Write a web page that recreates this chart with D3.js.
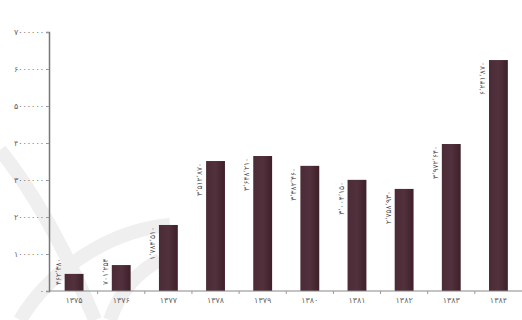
<!DOCTYPE html>
<html><head><meta charset="utf-8">
<script src="https://cdn.jsdelivr.net/npm/d3@7"></script>
<style>html,body{margin:0;padding:0;background:#fff;}svg{display:block;}</style>
</head><body>
<svg id="c" width="522" height="320"></svg>
<script>
const years = ["۱۳۷۵","۱۳۷۶","۱۳۷۷","۱۳۷۸","۱۳۷۹","۱۳۸۰","۱۳۸۱","۱۳۸۲","۱۳۸۳","۱۳۸۴"];
const values = [462380, 701254, 1784510, 3512870, 3648210, 3382460, 3004150, 2758930, 3972640, 6241870];
const yTicks = [0, 1000000, 2000000, 3000000, 4000000, 5000000, 6000000, 7000000];

const fa = s => String(s).replace(/\d/g, d => "۰۱۲۳۴۵۶۷۸۹"[d]);
const faSep = n => fa(String(n).replace(/\B(?=(\d{3})+(?!\d))/g, "٬"));
const svg = d3.select("#c");
const W = 522, H = 320;
const m = {left: 49, right: 0, top: 32, bottom: 29};
const y0 = H - m.bottom;

// faint watermark
const wm = svg.append("g").attr("fill", "none").attr("stroke", "#efefef").attr("stroke-width", 14);
wm.append("path").attr("d", "M 0 150 C 40 200, 70 260, 95 320");
wm.append("path").attr("d", "M 20 320 C 50 270, 110 230, 170 225");
wm.append("path").attr("d", "M 110 320 C 120 290, 140 270, 160 260");

const x = d3.scaleBand().domain(years).range([m.left + 1.5, W - m.right]).paddingInner(0.6).paddingOuter(0.3);
const y = d3.scaleLinear().domain([0, 7000000]).range([y0, m.top]);

const defs = svg.append("defs");
const g = defs.append("linearGradient").attr("id", "bg").attr("x1", 0).attr("x2", 1);
g.append("stop").attr("offset", 0).attr("stop-color", "#4a2b36");
g.append("stop").attr("offset", 0.5).attr("stop-color", "#52313d");
g.append("stop").attr("offset", 1).attr("stop-color", "#3e2029");

// y axis
const ya = svg.append("g").attr("transform", `translate(${m.left},0)`)
  .call(d3.axisLeft(y).tickValues(yTicks).tickSize(3).tickFormat(d => fa(d)));
ya.select(".domain").attr("stroke", "#777").attr("stroke-width", 1.5);
ya.selectAll(".tick line").attr("stroke", "#999");
ya.selectAll("text").attr("font-family", "DejaVu Sans").attr("font-size", 8).attr("fill", "#666").attr("x", -5);

// bars
svg.append("g").selectAll("rect").data(values).join("rect")
  .attr("x", (d, i) => x(years[i]))
  .attr("y", d => y(d))
  .attr("width", x.bandwidth())
  .attr("height", d => y0 - y(d))
  .attr("fill", "url(#bg)");

// bar value labels
const lbl = svg.append("g").selectAll("text").data(values).join("text")
  .attr("text-anchor", "end")
  .attr("font-family", "DejaVu Sans").attr("font-size", 7.5).attr("fill", "#555")
  .text(d => faSep(d));
lbl.each(function(d, i) {
  const len = this.getComputedTextLength();
  const top = Math.min(y(d) + 2, y0 - 6 - len);
  d3.select(this).attr("transform", `translate(${x(years[i]) - 4},${top}) rotate(-90)`);
});

// x axis
const step = x.step();
svg.append("line").attr("x1", m.left).attr("x2", W - m.right).attr("y1", y0).attr("y2", y0)
  .attr("stroke", "#888").attr("stroke-width", 1);
svg.append("g").selectAll("line").data(years.slice(1)).join("line")
  .attr("x1", d => x(d) - step * 0.3).attr("x2", d => x(d) - step * 0.3)
  .attr("y1", y0).attr("y2", y0 + 3).attr("stroke", "#999");
svg.append("g").selectAll("text").data(years).join("text")
  .attr("x", d => x(d) + x.bandwidth() / 2).attr("y", y0 + 12)
  .attr("text-anchor", "middle")
  .attr("font-family", "DejaVu Sans").attr("font-size", 8).attr("fill", "#666")
  .text(d => d);
</script>
</body></html>
